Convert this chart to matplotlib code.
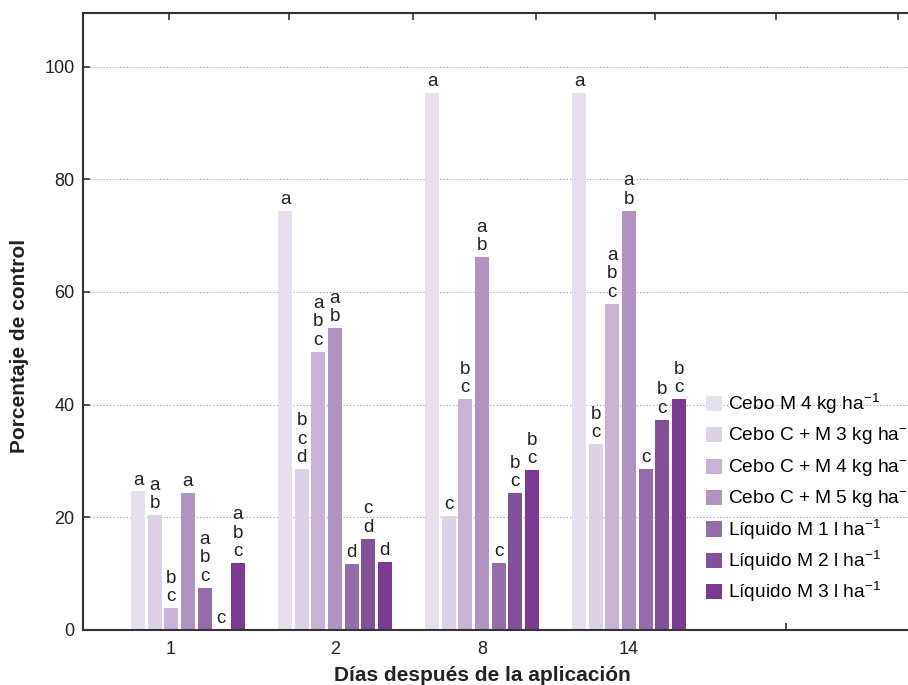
import numpy as np
import matplotlib
matplotlib.use("Agg")
import matplotlib.pyplot as plt

plt.rcParams['font.family'] = ['Liberation Sans', 'DejaVu Sans']
plt.rcParams['mathtext.default'] = 'regular'

# data
days = ['1', '2', '8', '14']
treatments = ['Cebo M 4 kg ha$^{-1}$', 'Cebo C + M 3 kg ha$^{-1}$', 'Cebo C + M 4 kg ha$^{-1}$',
              'Cebo C + M 5 kg ha$^{-1}$', 'Líquido M 1 l ha$^{-1}$', 'Líquido M 2 l ha$^{-1}$',
              'Líquido M 3 l ha$^{-1}$']
control = [
    [24.6, 74.4, 95.3, 95.3],   # Cebo M 4
    [20.4, 28.6, 20.3, 33.0],   # Cebo C + M 3
    [3.9, 49.4, 41.0, 57.9],    # Cebo C + M 4
    [24.3, 53.6, 66.2, 74.4],   # Cebo C + M 5
    [7.5, 11.7, 11.9, 28.6],    # Líquido M 1
    [0.0, 16.2, 24.3, 37.3],    # Líquido M 2
    [11.9, 12.1, 28.4, 41.0],   # Líquido M 3
]
letters = [
    ['a', 'a', 'a', 'a'],
    ['ab', 'bcd', 'c', 'bc'],
    ['bc', 'abc', 'bc', 'abc'],
    ['a', 'ab', 'ab', 'ab'],
    ['abc', 'd', 'c', 'c'],
    ['c', 'cd', 'bc', 'bc'],
    ['abc', 'd', 'bc', 'bc'],
]
colors = ['#E7DFEE', '#DCD1E6', '#C8B2D6', '#B193C2', '#966CAA', '#825099', '#7A3A8F']

# layout (x in units of group spacing)
group_x = np.arange(len(days))
pitch = 0.113
width = 0.095
xtick_pos = [-0.12, 1, 2, 3, 4.07]
top_ticks = [-0.13, 0.69, 1.53, 2.37, 3.18, 4.0, 4.83]

fig = plt.figure(figsize=(9.08, 6.85), dpi=100)
ax = fig.add_axes([83 / 908, 55 / 685, 825 / 908, 617 / 685])

for i, (vals, labs) in enumerate(zip(control, letters)):
    xs = group_x + (i - 3) * pitch
    ax.bar(xs, vals, width=width, color=colors[i], label=treatments[i], zorder=2)
    for x, v, lab in zip(xs, vals, labs):
        ax.annotate('\n'.join(lab), (x, v), xytext=(0, 2), textcoords='offset points',
                    ha='center', va='bottom', fontsize=13.5, color='#222222',
                    linespacing=1.12, zorder=3)

ax.set_xlim(-0.714, 4.898)
ax.set_ylim(0, 109.5)
ax.set_yticks(np.arange(0, 101, 20))
ax.set_xticks(xtick_pos)
ax.set_xticklabels(days + [''])
ax.yaxis.grid(True, linestyle=(0, (1, 2)), color='#9a9a9a', linewidth=0.8, zorder=0)
ax.set_axisbelow(True)

ax.tick_params(direction='in', length=5, width=1.2, color='#333333',
               labelsize=13, labelcolor='#222222')
ax.tick_params(axis='x', pad=8)
ax.tick_params(axis='y', pad=6)
for side in ['left', 'bottom', 'top']:
    ax.spines[side].set_linewidth(1.5)
    ax.spines[side].set_color('#333333')
ax.spines['right'].set_visible(False)

top = ax.twiny()
top.set_xlim(ax.get_xlim())
top.set_xticks(top_ticks)
top.set_xticklabels([])
top.tick_params(direction='in', length=5, width=1.2, color='#333333')
for side in top.spines:
    top.spines[side].set_visible(False)

ax.set_ylabel('Porcentaje de control', fontsize=15, fontweight='bold', color='#222222')
ax.yaxis.set_label_coords(-0.066, 0.46)
ax.set_xlabel('Días después de la aplicación', fontsize=15, fontweight='bold', color='#222222')
ax.xaxis.set_label_coords(0.484, -0.059)

ax.legend(loc='upper left', bbox_to_anchor=(706 / 908, 1 - 392 / 685),
          bbox_transform=fig.transFigure, frameon=False, fontsize=13.8,
          handlelength=0.85, handleheight=0.85, handletextpad=0.3, labelspacing=0.38,
          borderaxespad=0, borderpad=0)

fig.savefig('out.png', dpi=100)
